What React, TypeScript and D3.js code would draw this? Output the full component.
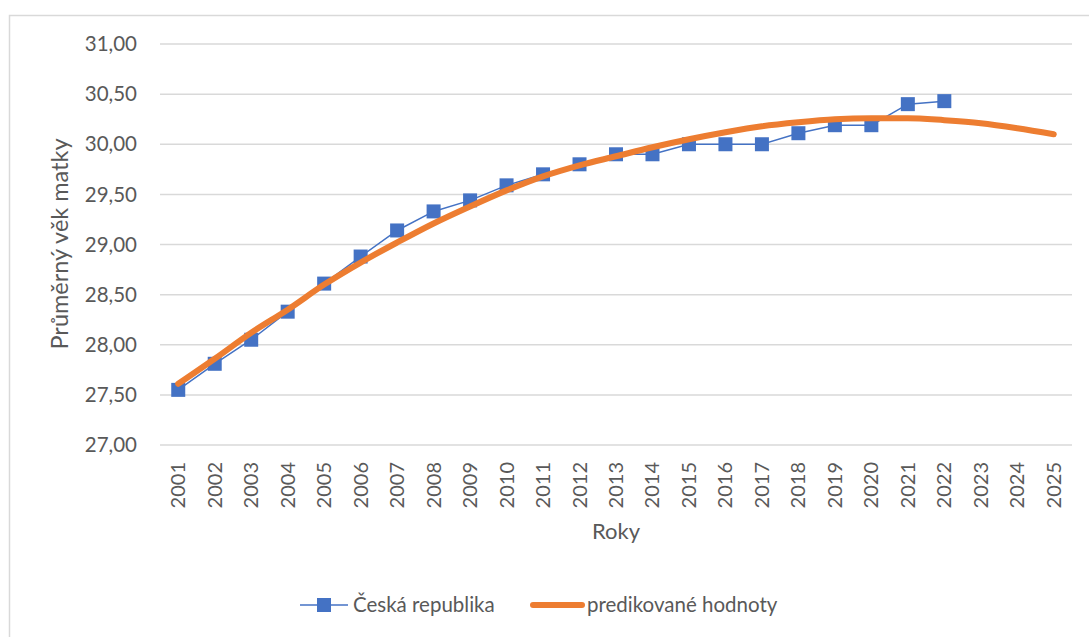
import React, {useEffect, useRef} from 'react';
import * as d3 from 'd3';

const years = d3.range(2001, 2026).map(String);

const czYears = years.slice(0, 22);
const czValues = [
    27.55, 27.81, 28.05, 28.33, 28.61, 28.88, 29.14, 29.33, 29.44, 29.59, 29.70,
    29.80, 29.90, 29.90, 30.00, 30.00, 30.00, 30.11, 30.19, 30.19, 30.40, 30.43
];

const predValues = [
    27.61, 27.86, 28.12, 28.35, 28.60, 28.82, 29.02, 29.21, 29.38, 29.54, 29.68,
    29.79, 29.88, 29.97, 30.05, 30.12, 30.18, 30.22, 30.25, 30.26, 30.26, 30.24,
    30.21, 30.16, 30.10
];

const yTicks = [27, 27.5, 28, 28.5, 29, 29.5, 30, 30.5, 31];

const W = 1089;
const H = 637;
const FONT = 'Lato, "Open Sans", sans-serif';
const TEXT = '#595959';
const BLUE = '#4472C4';
const ORANGE = '#ED7D31';

const fmt = (v: number) => v.toFixed(2).replace('.', ',');

const App = () => {
    const ref = useRef<SVGSVGElement>(null);

    useEffect(() => {
        const svg = d3.select(ref.current);
        svg.selectAll('*').remove();

        const left = 160, right = 1072, top = 44, bottom = 445;

        const x = d3.scaleBand().domain(years).range([left, right]);
        const y = d3.scaleLinear().domain([27, 31]).range([bottom, top]);
        const cx = (d: string) => (x(d) as number) + x.bandwidth() / 2;

        // frame
        svg.append('rect')
            .attr('x', 9.5).attr('y', 15.5)
            .attr('width', 1100).attr('height', 700)
            .attr('fill', 'white')
            .attr('stroke', '#d9d9d9').attr('stroke-width', 1.5);

        // grid
        svg.append('g').selectAll('line')
            .data(yTicks).enter().append('line')
            .attr('x1', left).attr('x2', right)
            .attr('y1', d => y(d)).attr('y2', d => y(d))
            .attr('stroke', '#d9d9d9').attr('stroke-width', 1.5);

        // y tick labels
        svg.append('g').selectAll('text')
            .data(yTicks).enter().append('text')
            .attr('x', 137).attr('y', d => y(d))
            .attr('dy', '0.35em')
            .attr('text-anchor', 'end')
            .attr('font-family', FONT).attr('font-size', 20.5)
            .attr('fill', TEXT)
            .text(d => fmt(d));

        // x tick labels (rotated)
        svg.append('g').selectAll('text')
            .data(years).enter().append('text')
            .attr('transform', d => `translate(${cx(d)},462) rotate(-90)`)
            .attr('dy', '0.35em')
            .attr('text-anchor', 'end')
            .attr('font-family', FONT).attr('font-size', 20)
            .attr('fill', TEXT)
            .text(d => d);

        // axis titles
        svg.append('text')
            .attr('x', (left + right) / 2).attr('y', 539)
            .attr('text-anchor', 'middle')
            .attr('font-family', FONT).attr('font-size', 22)
            .attr('fill', TEXT)
            .text('Roky');

        svg.append('text')
            .attr('transform', `translate(68,244) rotate(-90)`)
            .attr('text-anchor', 'middle')
            .attr('font-family', FONT).attr('font-size', 23.5)
            .attr('fill', TEXT)
            .text('Průměrný věk matky');

        // Česká republika
        const czLine = d3.line<number>()
            .x((_, i) => cx(czYears[i]))
            .y(d => y(d));

        svg.append('path')
            .datum(czValues)
            .attr('d', czLine)
            .attr('fill', 'none')
            .attr('stroke', BLUE).attr('stroke-width', 1.5);

        const ms = 14;
        svg.append('g').selectAll('rect')
            .data(czValues).enter().append('rect')
            .attr('x', (_, i) => cx(czYears[i]) - ms / 2)
            .attr('y', d => y(d) - ms / 2)
            .attr('width', ms).attr('height', ms)
            .attr('fill', BLUE);

        // predikované hodnoty
        const predLine = d3.line<number>()
            .x((_, i) => cx(years[i]))
            .y(d => y(d))
            .curve(d3.curveMonotoneX);

        svg.append('path')
            .datum(predValues)
            .attr('d', predLine)
            .attr('fill', 'none')
            .attr('stroke', ORANGE).attr('stroke-width', 6)
            .attr('stroke-linecap', 'round');

        // legend
        const ly = 605;
        const lg = svg.append('g');
        lg.append('line')
            .attr('x1', 300).attr('x2', 348).attr('y1', ly).attr('y2', ly)
            .attr('stroke', BLUE).attr('stroke-width', 1.5);
        lg.append('rect')
            .attr('x', 324 - ms / 2).attr('y', ly - ms / 2)
            .attr('width', ms).attr('height', ms)
            .attr('fill', BLUE);
        lg.append('text')
            .attr('x', 353).attr('y', ly).attr('dy', '0.35em')
            .attr('font-family', FONT).attr('font-size', 20.5)
            .attr('fill', TEXT)
            .text('Česká republika');
        lg.append('line')
            .attr('x1', 533).attr('x2', 582).attr('y1', ly).attr('y2', ly)
            .attr('stroke', ORANGE).attr('stroke-width', 6)
            .attr('stroke-linecap', 'round');
        lg.append('text')
            .attr('x', 587).attr('y', ly).attr('dy', '0.35em')
            .attr('font-family', FONT).attr('font-size', 20.5)
            .attr('fill', TEXT)
            .text('predikované hodnoty');
    }, []);

    return (
        <svg ref={ref} width={W} height={H}
             style={{position: 'absolute', left: 0, top: 0, background: 'white'}}/>
    );
};

export default App;
